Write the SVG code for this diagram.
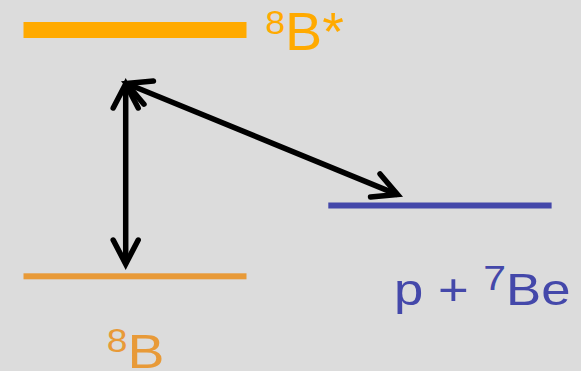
<svg xmlns="http://www.w3.org/2000/svg" width="581" height="371" viewBox="0 0 581 371">
<style>
text{font-family:"Liberation Sans",Arial,sans-serif}
.conn{stroke:#000;stroke-width:5.5;fill:none;marker-start:url(#head);marker-end:url(#head)}
</style>
<defs>
<marker id="head" markerUnits="userSpaceOnUse" markerWidth="40" markerHeight="40" viewBox="-30 -20 40 40" refX="0" refY="0" orient="auto-start-reverse" overflow="visible">
<path d="M -24 -12.5 L 0 0 L -24 12.5" fill="none" stroke="#000" stroke-width="5.5" stroke-linecap="round" stroke-linejoin="miter"/>
</marker>
</defs>
<rect width="581" height="371" fill="#DCDCDC"/>
<g id="node-8Bstar">
<rect x="23.5" y="22" width="223" height="16" fill="#FFAA00"/>
<text transform="translate(265.2,50) scale(1.05,1)" font-size="53" fill="#FFAA00"><tspan font-size="34" dy="-15.7">8</tspan><tspan dy="15.7">B*</tspan></text>
</g>
<g id="node-p7Be">
<rect x="328.3" y="202.5" width="223.3" height="6" fill="#4448AA"/>
<text transform="translate(394,305) scale(1.17,1)" font-size="45" fill="#4448AA" xml:space="preserve">p + <tspan font-size="35" dy="-15">7</tspan><tspan dy="15">Be</tspan></text>
</g>
<g id="node-8B">
<rect x="23.5" y="273.3" width="223" height="6" fill="#E89A38"/>
<text transform="translate(106.7,368) scale(1.13,1)" font-size="49" fill="#E89A38"><tspan font-size="33" dy="-16.2">8</tspan><tspan dy="16.2">B</tspan></text>
</g>
<g id="connectors">
<line class="conn" x1="125.7" y1="84" x2="125.7" y2="264"/>
<line class="conn" x1="126.5" y1="83.5" x2="397.5" y2="194.6"/>
</g>
</svg>
